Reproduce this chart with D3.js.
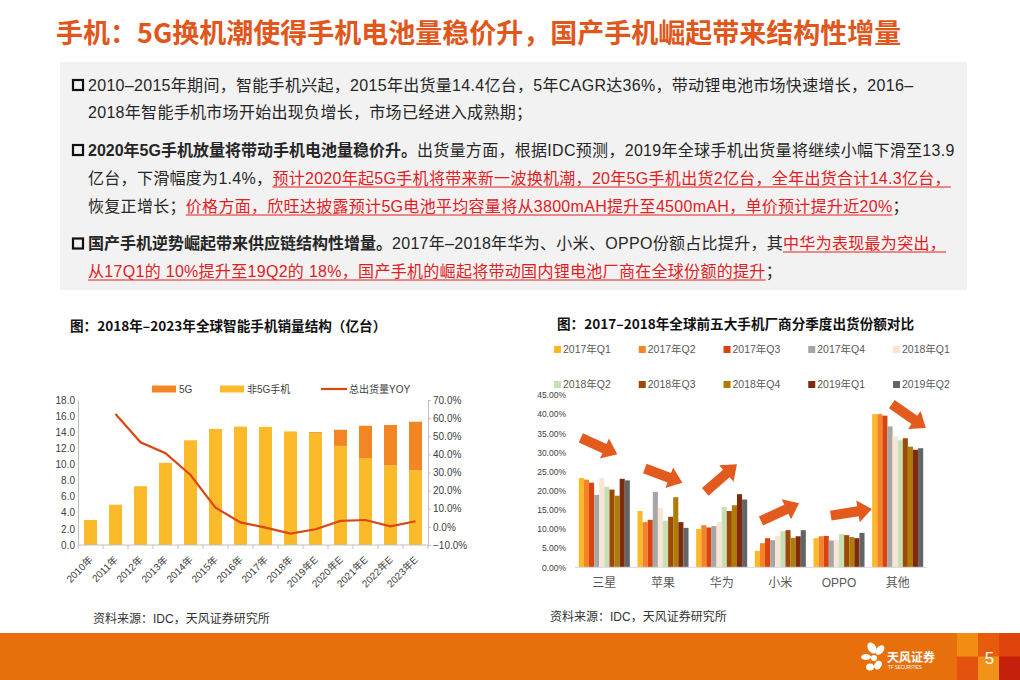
<!DOCTYPE html>
<html><head><meta charset="utf-8">
<script src="https://cdn.jsdelivr.net/npm/d3@7"></script>
<style>body{margin:0;background:#fff;}svg{display:block;}</style>
</head><body>
<svg id="c" width="1020" height="680"></svg>
<script>
// ---------- DATA ----------
const years = ['2010年','2011年','2012年','2013年','2014年','2015年','2016年','2017年','2018年','2019年E','2020年E','2021年E','2022年E','2023年E'];
const non5G = [3.1, 5.0, 7.3, 10.2, 13.0, 14.4, 14.7, 14.65, 14.1, 13.9, 12.3, 10.8, 9.9, 9.3];
const only5G = [0, 0, 0, 0, 0, 0, 0, 0, 0, 0.1, 2.0, 4.0, 5.0, 6.0];
const yoy = [null, 62.3, 46.7, 40.6, 28.6, 10.6, 2.5, -0.4, -3.7, -1.3, 3.3, 3.8, 0.3, 3.1];
const leftTicks = [0,2,4,6,8,10,12,14,16,18];
const rightTicks = [-10,0,10,20,30,40,50,60,70];
const leftLegend = ['5G','非5G手机','总出货量YOY'];

const brands = ['三星','苹果','华为','小米','OPPO','其他'];
const quarters = ['2017年Q1','2017年Q2','2017年Q3','2017年Q4','2018年Q1','2018年Q2','2018年Q3','2018年Q4','2019年Q1','2019年Q2'];
const shareSamsung = [23.3, 22.9, 22.1, 18.9, 23.3, 21.0, 20.3, 18.7, 23.1, 22.7];
const shareApple   = [14.7, 11.8, 12.4, 19.7, 15.5, 12.2, 13.2, 18.3, 11.8, 10.3];
const shareHuawei  = [10.0, 11.0, 10.4, 10.8, 11.8, 15.8, 14.7, 16.2, 19.1, 17.7];
const shareXiaomi  = [4.3, 6.3, 7.6, 7.1, 8.2, 9.4, 9.7, 7.7, 8.1, 9.7];
const shareOppo    = [7.6, 8.1, 8.2, 7.0, 7.1, 8.7, 8.4, 7.9, 7.6, 9.0];
const shareOther   = [40.0, 40.0, 39.6, 36.8, 34.2, 33.2, 33.7, 31.5, 30.7, 31.1];
const shareTicks = [0,5,10,15,20,25,30,35,40,45];
// trend arrows: brand, start (fraction of band, %), end (fraction of band, %)
const trendArrows = [
  ['三星', 0.10, 33.8, 0.72, 29.5],
  ['苹果', 0.19, 25.8, 0.83, 22.1],
  ['华为', 0.22, 19.7, 0.76, 26.9],
  ['小米', 0.17, 12.1, 0.82, 16.7],
  ['OPPO', 0.36, 13.5, 1.06, 15.2],
  ['其他', 0.40, 42.6, 0.98, 36.4]
];

// ---------- STYLE ----------
const quarterColors = ['#FBB928','#F4832A','#D9430F','#A6A6A6','#FBE4D5','#C5E0B3','#9C4A0A','#AF7C08','#7E2A0C','#646464'];
const F = '"Liberation Sans","Noto Sans CJK SC",sans-serif';
const RED = '#E0201E', INK = '#262626';

const svg = d3.select('#c');

// ---------- TITLE ----------
svg.append('text').attr('x',56).attr('y',43)
  .attr('font-family','"Noto Sans CJK SC",sans-serif').attr('font-weight','bold')
  .attr('font-size',27).attr('fill','#E0561B')
  .text('手机：5G换机潮使得手机电池量稳价升，国产手机崛起带来结构性增量');

// ---------- TEXT BOX ----------
svg.append('rect').attr('x',60).attr('y',62).attr('width',907).attr('height',228).attr('fill','#F2F2F2');
const tb = svg.append('g').attr('font-family',F).attr('font-size',16);
function drawLine(y, segs){
  let x = 88;
  segs.forEach(s=>{
    const t = tb.append('text').attr('x',x).attr('y',y).text(s.t)
      .attr('fill', s.red?RED:INK).attr('font-weight', s.b?'bold':'normal')
      .attr('letter-spacing', s.b?0:0.3);
    const w = t.node().getComputedTextLength();
    if(s.red) tb.append('line').attr('x1',x).attr('x2',x+w).attr('y1',y+3).attr('y2',y+3)
      .attr('stroke',RED).attr('stroke-width',1.2);
    x += w;
  });
}
[85,150,243.5].forEach(cy=>{
  svg.append('rect').attr('x',73).attr('y',cy-5).attr('width',10).attr('height',10)
    .attr('fill','none').attr('stroke','#111').attr('stroke-width',2.2);
});
drawLine(91,[{t:'2010–2015年期间，智能手机兴起，2015年出货量14.4亿台，5年CAGR达36%，带动锂电池市场快速增长，2016–'}]);
drawLine(118,[{t:'2018年智能手机市场开始出现负增长，市场已经进入成熟期；'}]);
drawLine(156,[{t:'2020年5G手机放量将带动手机电池量稳价升。',b:true},{t:'出货量方面，根据IDC预测，2019年全球手机出货量将继续小幅下滑至13.9'}]);
drawLine(184,[{t:'亿台，下滑幅度为1.4%，'},{t:'预计2020年起5G手机将带来新一波换机潮，20年5G手机出货2亿台，全年出货合计14.3亿台，',red:true}]);
drawLine(212,[{t:'恢复正增长；'},{t:'价格方面，欣旺达披露预计5G电池平均容量将从3800mAH提升至4500mAH，单价预计提升近20%',red:true},{t:'；'}]);
drawLine(249,[{t:'国产手机逆势崛起带来供应链结构性增量。',b:true},{t:'2017年–2018年华为、小米、OPPO份额占比提升，其'},{t:'中华为表现最为突出，',red:true}]);
drawLine(277,[{t:'从17Q1的 10%提升至19Q2的 18%，国产手机的崛起将带动国内锂电池厂商在全球份额的提升',red:true},{t:'；'}]);

// ---------- CHART TITLES & SOURCES ----------
svg.append('text').attr('x',70).attr('y',331).attr('font-family','"Noto Sans CJK SC",sans-serif')
  .attr('font-weight','bold').attr('font-size',13.6).attr('fill','#111').text('图：2018年–2023年全球智能手机销量结构（亿台）');
svg.append('text').attr('x',557).attr('y',329).attr('font-family','"Noto Sans CJK SC",sans-serif')
  .attr('font-weight','bold').attr('font-size',13.6).attr('fill','#111').text('图：2017–2018年全球前五大手机厂商分季度出货份额对比');
svg.append('text').attr('x',93).attr('y',623).attr('font-family',F).attr('font-size',12).attr('fill','#333').text('资料来源：IDC，天风证券研究所');
svg.append('text').attr('x',550).attr('y',621).attr('font-family',F).attr('font-size',12).attr('fill','#333').text('资料来源：IDC，天风证券研究所');

// ---------- LEFT CHART ----------
const L = svg.append('g').attr('font-family',F);
const xL = d3.scaleBand().domain(years).range([78,428]).paddingInner(0.48).paddingOuter(0.24);
const yL = d3.scaleLinear().domain([0,18]).range([545,400]);
const yR = d3.scaleLinear().domain([-10,70]).range([545,400]);
const cL = ['#F28524','#FBBA2A','#D9480F'];

L.selectAll('rect.n').data(years).join('rect').attr('class','n')
  .attr('x',d=>xL(d)).attr('width',xL.bandwidth())
  .attr('y',(d,i)=>yL(non5G[i])).attr('height',(d,i)=>yL(0)-yL(non5G[i])).attr('fill',cL[1]);
L.selectAll('rect.g').data(years).join('rect').attr('class','g')
  .attr('x',d=>xL(d)).attr('width',xL.bandwidth())
  .attr('y',(d,i)=>yL(non5G[i]+only5G[i])).attr('height',(d,i)=>yL(non5G[i])-yL(non5G[i]+only5G[i])).attr('fill',cL[0]);

const axL = L.append('g').attr('transform','translate(78,0)')
  .call(d3.axisLeft(yL).tickValues(leftTicks).tickFormat(d3.format('.1f')).tickSize(0).tickPadding(3));
const axR = L.append('g').attr('transform','translate(428,0)')
  .call(d3.axisRight(yR).tickValues(rightTicks).tickFormat(d=>d3.format('.1f')(d)+'%').tickSize(3).tickPadding(2));
[axL,axR].forEach(a=>{a.selectAll('path,line').attr('stroke','#BFBFBF');a.selectAll('text').attr('font-size',10).attr('fill','#404040').attr('font-family',F);});
L.append('line').attr('x1',78).attr('x2',428).attr('y1',545).attr('y2',545).attr('stroke','#BFBFBF');
L.selectAll('line.tk').data(d3.range(years.length+1)).join('line').attr('class','tk')
  .attr('x1',i=>xL.range()[0]+i*xL.step()).attr('x2',i=>xL.range()[0]+i*xL.step())
  .attr('y1',545).attr('y2',549).attr('stroke','#BFBFBF');
L.selectAll('text.xl').data(years).join('text').attr('class','xl')
  .attr('transform',d=>`translate(${xL(d)+xL.bandwidth()/2+0.5},558) rotate(-45)`)
  .attr('text-anchor','end').attr('dy','0.35em').attr('font-size',10).attr('fill','#404040').text(d=>d);

const line = d3.line().defined(d=>d!=null).x((d,i)=>xL(years[i])+xL.bandwidth()/2).y(d=>yR(d));
L.append('path').datum(yoy).attr('d',line).attr('fill','none').attr('stroke',cL[2]).attr('stroke-width',2.2);

// legend
const lgX = [152,220,321];
L.append('rect').attr('x',lgX[0]).attr('y',385.5).attr('width',24).attr('height',7).attr('fill',cL[0]);
L.append('rect').attr('x',lgX[1]).attr('y',385.5).attr('width',24).attr('height',7).attr('fill',cL[1]);
L.append('line').attr('x1',lgX[2]).attr('x2',lgX[2]+26).attr('y1',389).attr('y2',389).attr('stroke',cL[2]).attr('stroke-width',2.2);
leftLegend.forEach((t,i)=>L.append('text').attr('x',lgX[i]+(i==2?28:27)).attr('y',392.5).attr('font-size',10).attr('fill','#404040').text(t));

// ---------- RIGHT CHART ----------
const R = svg.append('g').attr('font-family',F);
const shares = [shareSamsung, shareApple, shareHuawei, shareXiaomi, shareOppo, shareOther];
const xB = d3.scaleBand().domain(brands).range([575,927]).paddingInner(0.13).paddingOuter(0.065);
const xQ = d3.scaleBand().domain(quarters).range([0,xB.bandwidth()]);
const yB = d3.scaleLinear().domain([0,45]).range([567.3,395]);

const axB = R.append('g').attr('transform','translate(575,0)')
  .call(d3.axisLeft(yB).tickValues(shareTicks).tickFormat(d=>d3.format('.2f')(d)+'%').tickSize(0).tickPadding(9));
axB.select('.domain').remove();
axB.selectAll('text').attr('font-size',8.5).attr('fill','#404040').attr('font-family',F);

brands.forEach((b,bi)=>{
  R.selectAll(null).data(quarters).join('rect')
    .attr('x',q=>xB(b)+xQ(q)).attr('width',xQ.bandwidth())
    .attr('y',(q,qi)=>yB(shares[bi][qi])).attr('height',(q,qi)=>yB(0)-yB(shares[bi][qi]))
    .attr('fill',(q,qi)=>quarterColors[qi]);
});
R.append('line').attr('x1',575).attr('x2',927).attr('y1',567.3).attr('y2',567.3).attr('stroke','#D9D9D9');
const axC = R.append('g').attr('transform','translate(0,567.3)')
  .call(d3.axisBottom(xB).tickSize(0).tickPadding(11));
axC.select('.domain').remove();
axC.selectAll('text').attr('font-size',12).attr('fill','#595959').attr('font-family',F);

// legend
quarters.forEach((q,i)=>{
  const col=i%5,row=Math.floor(i/5);
  const x=554+col*84.75, y=349.5+row*35;
  R.append('rect').attr('x',x).attr('y',y-3.5).attr('width',7).attr('height',7).attr('fill',quarterColors[i]);
  R.append('text').attr('x',x+9).attr('y',y+3.8).attr('font-size',10.5).attr('fill','#595959').text(q);
});

// arrows
function arrowPts(x0,y0,x1,y1){
  const sw=5, hw=11, hl=14;
  const dx=x1-x0, dy=y1-y0, Ln=Math.hypot(dx,dy), ux=dx/Ln, uy=dy/Ln, px=-uy, py=ux;
  const bx=x1-ux*hl, by=y1-uy*hl;
  return [[x0+px*sw,y0+py*sw],[bx+px*sw,by+py*sw],[bx+px*hw,by+py*hw],[x1,y1],[bx-px*hw,by-py*hw],[bx-px*sw,by-py*sw],[x0-px*sw,y0-py*sw]];
}
R.selectAll('polygon.arr').data(trendArrows).join('polygon').attr('class','arr')
  .attr('points',d=>{
    const st=xB(d[0])-xB.step()*0.065;
    return arrowPts(st+d[1]*xB.step(), yB(d[2]), st+d[3]*xB.step(), yB(d[4])).map(p=>p.join(',')).join(' ');
  })
  .attr('fill','#E35A1F');

// ---------- FOOTER ----------
svg.append('rect').attr('x',0).attr('y',633).attr('width',1020).attr('height',47).attr('fill','#E8700C');
const mos = [['#F18E12','#E65B0C','#E0430B'],['#E4520F','#F0921A','#C4200B']];
mos.forEach((r,ri)=>r.forEach((c,ci)=>svg.append('rect').attr('x',957+ci*21).attr('y',633+ri*23.5).attr('width',21.5).attr('height',24).attr('fill',c)));
svg.append('text').attr('x',989.5).attr('y',664).attr('text-anchor','middle').attr('font-family',F).attr('font-size',17).attr('fill','#fff').text('5');
const lg = svg.append('g').attr('fill','#fff');
[[872,648,4,6,-30],[880,650,3.5,5.5,40],[866,657,5,3,0],[874,658,3,3,0],[870,667,4,3.5,0],[878,665,3.5,4.5,30]].forEach(e=>
  lg.append('ellipse').attr('cx',e[0]).attr('cy',e[1]).attr('rx',e[2]).attr('ry',e[3]).attr('transform',`rotate(${e[4]},${e[0]},${e[1]})`));
svg.append('text').attr('x',887).attr('y',662).attr('font-family','"Noto Sans CJK SC",sans-serif').attr('font-weight','bold').attr('font-size',12).attr('fill','#fff').text('天风证券');
svg.append('text').attr('x',888).attr('y',669).attr('font-family',F).attr('font-size',4.5).attr('fill','#fff').text('TF SECURITIES');
</script>
</body></html>
